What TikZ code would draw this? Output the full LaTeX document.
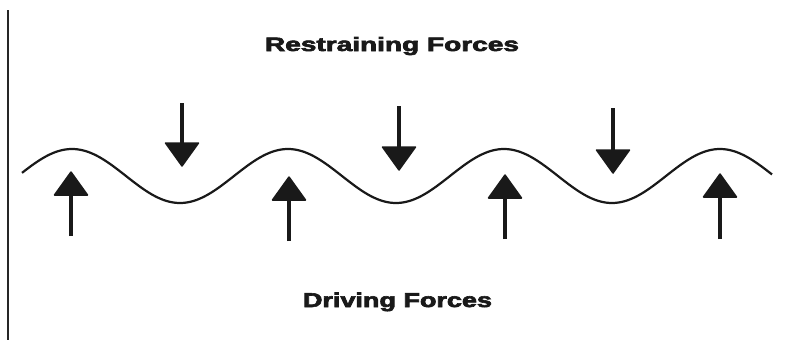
\documentclass[tikz,border=0pt]{standalone}
\usepackage{fontspec}
\setmainfont{Liberation Sans}
\newfontfamily\heavyfont[FakeBold=3]{Liberation Sans Bold}
\usetikzlibrary{arrows.meta}
\tikzset{
  shaft/.style={line width=4.5pt, color=black!90},
  head/.style={fill=black!90, draw=black!90, line width=1.5pt, line join=round},
  wave/.style={line width=2.2pt, color=black!90, line join=round},
  frameline/.style={line width=1.8pt, color=black!85},
  label/.style={inner sep=0pt, anchor=base, font=\heavyfont, text=black!90}
}
\begin{document}
\begin{tikzpicture}[x=1pt,y=-1pt]
\useasboundingbox (0,0) rectangle (786,340);
% left rule
\coordinate (lt) at (8,10);
\coordinate (lb) at (8,340);
\draw[frameline] (lt) -- (lb);
% labels
\node[label] (restr) at (392,51) {\resizebox{254pt}{14pt}{Restraining Forces}};
\node[label] (driv) at (397.5,307) {\resizebox{189pt}{14.5pt}{Driving Forces}};
% wave
\draw[wave] plot[domain=22:772, samples=300, smooth] (\x, {176-27*cos((\x-72)/0.6)});
% up arrows (driving)
\coordinate (u1b) at (71,236);  \coordinate (u1t) at (71,172);
\coordinate (u2b) at (289,241); \coordinate (u2t) at (289,177);
\coordinate (u3b) at (505,239); \coordinate (u3t) at (505,175);
\coordinate (u4b) at (720,239); \coordinate (u4t) at (720,174);
\foreach \n in {u1,u2,u3,u4}{
  \draw[shaft] (\n b) -- ([yshift=-20pt]\n t);
  \path[head] (\n t) -- ++(-16.5,23) -- ++(33,0) -- cycle;
}
% down arrows (restraining)
\coordinate (d1t) at (182,103); \coordinate (d1b) at (182,166);
\coordinate (d2t) at (399,106); \coordinate (d2b) at (399,170);
\coordinate (d3t) at (613,108); \coordinate (d3b) at (613,173);
\foreach \n in {d1,d2,d3}{
  \draw[shaft] (\n t) -- ([yshift=20pt]\n b);
  \path[head] (\n b) -- ++(-16.5,-23) -- ++(33,0) -- cycle;
}
\end{tikzpicture}
\end{document}
